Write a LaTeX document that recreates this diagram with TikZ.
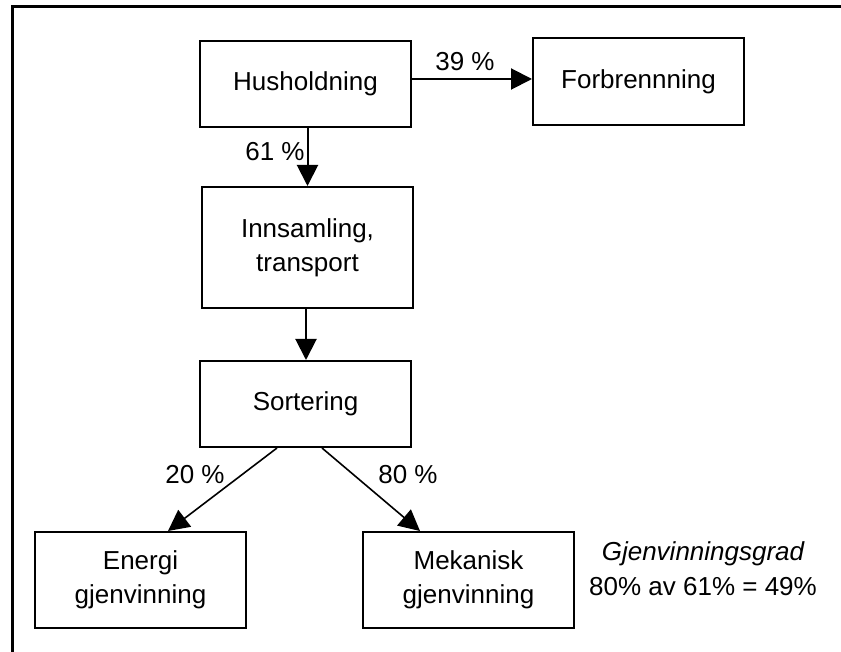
\documentclass[tikz,border=0pt]{standalone}
\usepackage{fontspec}
\setmainfont{Liberation Sans}
\usetikzlibrary{arrows.meta}
\begin{document}
\begin{tikzpicture}[x=1pt,y=-1pt,
  every node/.style={font=\fontsize{26}{34}\selectfont},
  flowbox/.style={draw,line width=2pt,inner sep=0pt,align=center},
  arr/.style={line width=2pt,-{Triangle[length=21pt,width=21pt]}},
  diag/.style={line width=1.6pt,-{Triangle[length=21pt,width=21pt]}},
  lbl/.style={inner sep=0pt}]
  \useasboundingbox (0,0) rectangle (841,652);
  % open frame: top and left edges
  \draw[line width=3pt] (12,652) -- (12,7) -- (841,7);

  % process boxes
  \node[flowbox,minimum width=211pt,minimum height=86pt] (hus) at (305.5,84) {Husholdning};
  \node[flowbox,minimum width=211pt,minimum height=87pt] (forb) at (638.5,81.5) {Forbrennning};
  \node[flowbox,minimum width=211pt,minimum height=121pt] (inn) at (307.5,247.5) {Innsamling,\\transport};
  \node[flowbox,minimum width=211pt,minimum height=86pt] (sort) at (305.5,404) {Sortering};
  \node[flowbox,minimum width=211pt,minimum height=96pt] (en) at (140.5,580) {Energi\\gjenvinning};
  \node[flowbox,minimum width=211pt,minimum height=96pt] (mek) at (468.5,580) {Mekanisk\\gjenvinning};

  % flows
  \coordinate (h1) at ([yshift=5pt]hus.east);
  \draw[arr] (h1) -- (h1 -| forb.west);
  \draw[arr] (inn.north |- hus.south) -- (inn.north);
  \draw[arr] ([xshift=-1.5pt]inn.south) -- ([xshift=-1.5pt]inn.south |- sort.north);
  \draw[diag] ([xshift=-28.5pt]sort.south) -- ([xshift=27.5pt]en.north);
  \draw[diag] ([xshift=16.5pt]sort.south) -- ([xshift=-48.5pt]mek.north);

  % flow shares
  \node[lbl] (p39) at (465,62) {39 \%};
  \node[lbl] (p61) at (275,152) {61 \%};
  \node[lbl] (p20) at (195,475) {20 \%};
  \node[lbl] (p80) at (408,475) {80 \%};

  % recovery rate note
  \node[lbl,anchor=base] (grad1) at (703,560) {\itshape Gjenvinningsgrad};
  \node[lbl,anchor=base] (grad2) at (703,595) {80\% av 61\% = 49\%};
\end{tikzpicture}
\end{document}
